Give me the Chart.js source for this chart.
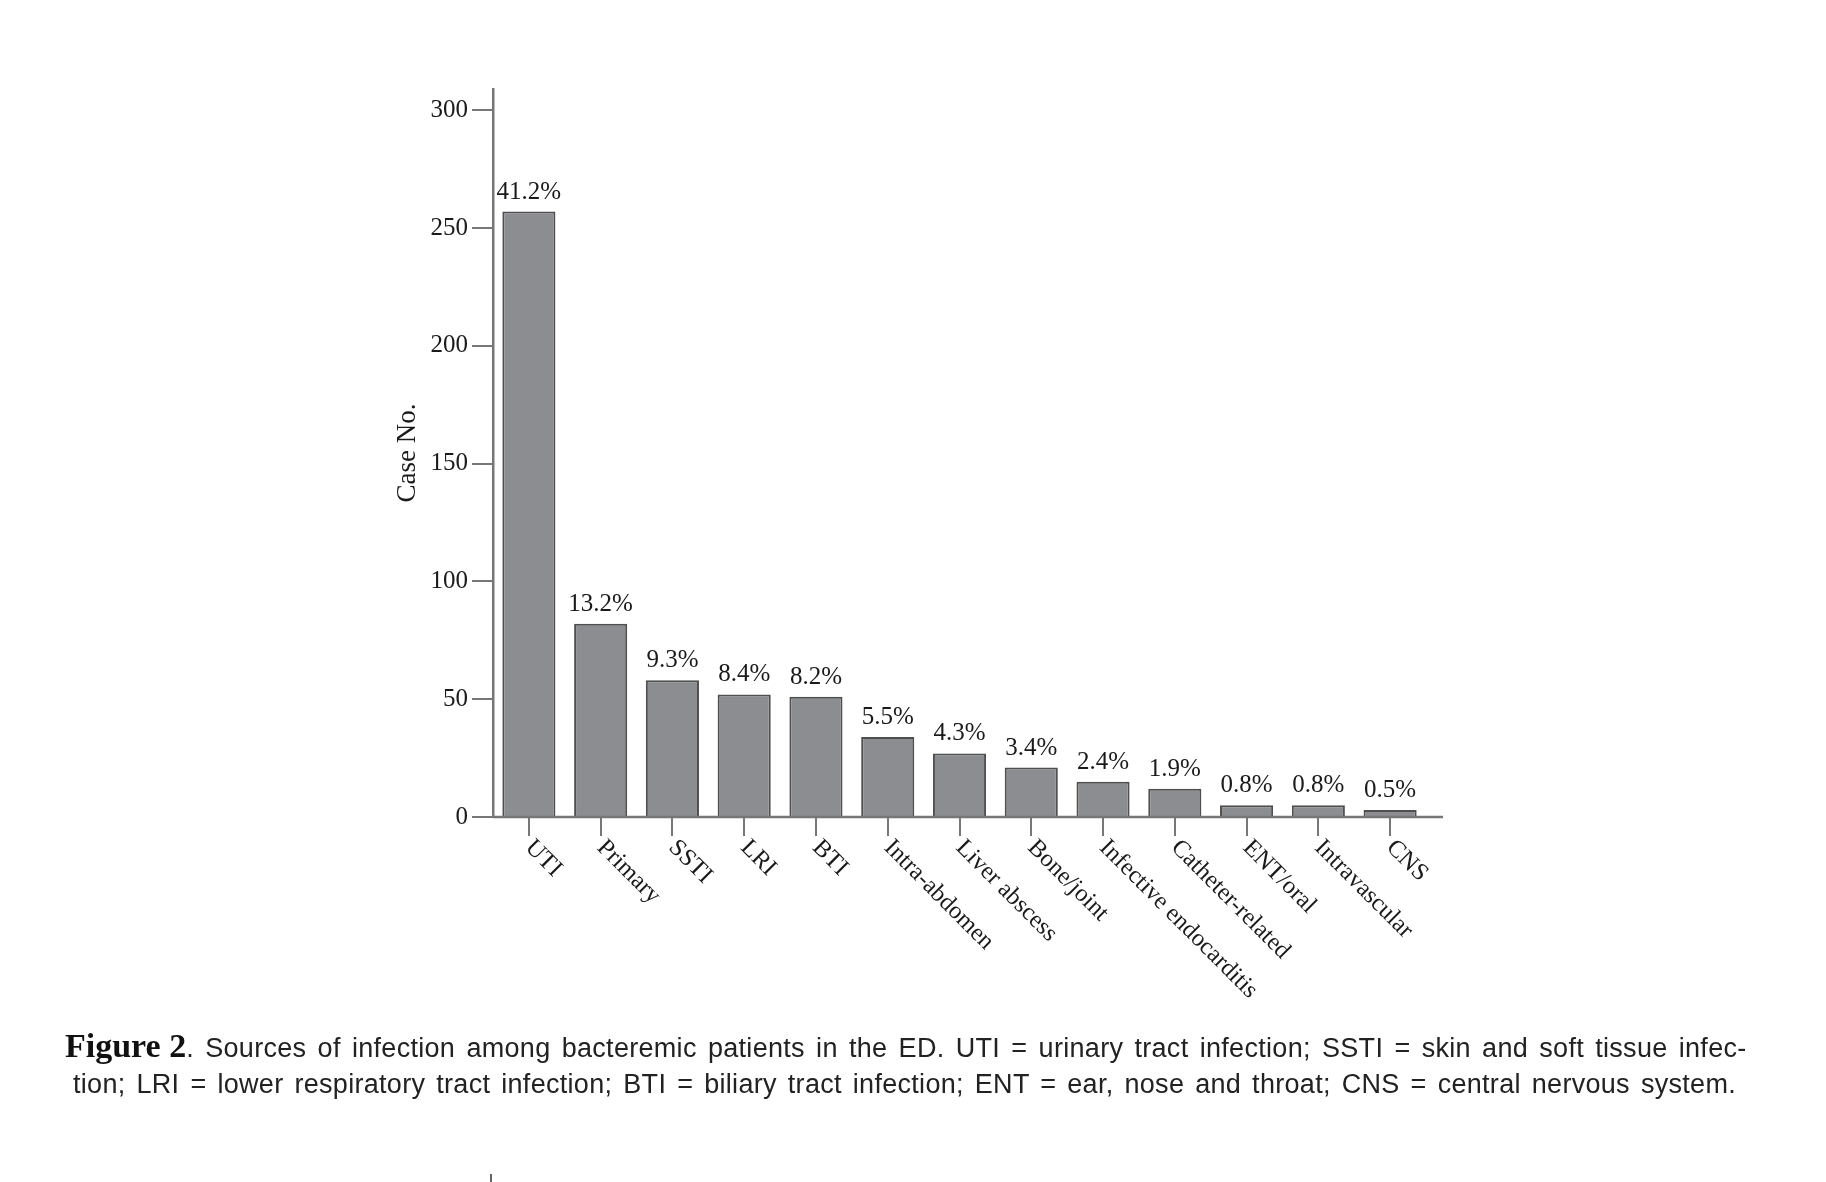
<!DOCTYPE html>
<html>
<head>
<meta charset="utf-8">
<script src="https://cdn.jsdelivr.net/npm/chart.js"></script>
<style>
  html, body { margin: 0; padding: 0; background: #fff; }
  body { width: 1826px; height: 1182px; position: relative; overflow: hidden; }
  #caixa { position: absolute; left: 0; top: 0; width: 1826px; height: 1030px; }
  .legenda { position: absolute; font: 27px "Liberation Sans", Arial, sans-serif; color: #222;
             line-height: 40px; white-space: nowrap; letter-spacing: 0.3px; }
  .legenda b { font: bold 34px "Liberation Serif", "Times New Roman", serif; color: #111; letter-spacing: 0; word-spacing: 0; }
  #linha1 { left: 65px; top: 1027px; }
  #linha2 { left: 73px; top: 1064px; }
  #marca { position: absolute; left: 490px; top: 1174px; width: 2px; height: 8px; background: #666; }
</style>
</head>
<body>
<div id="caixa"><canvas id="grafico"></canvas></div>
<div class="legenda" id="linha1" data-largura="1685"><b>Figure 2</b>. Sources of infection among bacteremic patients in the ED. UTI = urinary tract infection; SSTI = skin and soft tissue infec-</div>
<div class="legenda" id="linha2" data-largura="1663">tion; LRI = lower respiratory tract infection; BTI = biliary tract infection; ENT = ear, nose and throat; CNS = central nervous system.</div>
<div id="marca"></div>
<script>
// dados
const categorias = ["UTI", "Primary", "SSTI", "LRI", "BTI", "Intra-abdomen", "Liver abscess",
  "Bone/joint", "Infective endocarditis", "Catheter-related", "ENT/oral", "Intravascular", "CNS"];
const casos = [257, 82, 58, 52, 51, 34, 27, 21, 15, 12, 5, 5, 3];
const percentuais = ["41.2%", "13.2%", "9.3%", "8.4%", "8.2%", "5.5%", "4.3%",
  "3.4%", "2.4%", "1.9%", "0.8%", "0.8%", "0.5%"];
const ticksY = [0, 50, 100, 150, 200, 250, 300];

const corEixo = "#777";
const corTexto = "#1a1a1a";
const fonteSerif = '"Liberation Serif", "Times New Roman", serif';

// ajusta o espaço entre palavras para cada linha da legenda ocupar a largura certa
document.querySelectorAll(".legenda").forEach(linha => {
  const alvo = parseFloat(linha.dataset.largura);
  const espacos = (linha.textContent.match(/ /g) || []).length;
  const natural = linha.getBoundingClientRect().width;
  linha.style.wordSpacing = ((alvo - natural) / espacos) + "px";
});

// rótulos das barras, eixo x estendido e categorias inclinadas
const etiquetas = {
  id: "etiquetas",
  afterDraw(chart) {
    const { ctx, chartArea } = chart;
    const xs = chart.scales.x;
    const meta = chart.getDatasetMeta(0);
    ctx.save();

    ctx.strokeStyle = corEixo;
    ctx.lineWidth = 2.5;
    ctx.beginPath();
    ctx.moveTo(chartArea.left, chartArea.bottom);
    ctx.lineTo(chartArea.right + 17, chartArea.bottom);
    ctx.stroke();

    ctx.fillStyle = corTexto;
    ctx.font = "25px " + fonteSerif;
    ctx.textAlign = "center";
    ctx.textBaseline = "alphabetic";
    meta.data.forEach((barra, i) => {
      ctx.fillText(percentuais[i], barra.x, barra.y - 13);
    });

    ctx.font = "24.5px " + fonteSerif;
    ctx.textAlign = "left";
    ctx.textBaseline = "middle";
    categorias.forEach((nome, i) => {
      const x = xs.getPixelForTick(i);
      const y = chartArea.bottom + 19 + 8;
      ctx.save();
      ctx.translate(x, y);
      ctx.rotate(Math.PI / 4);
      ctx.fillText(nome, 0, 0);
      ctx.restore();
    });
    ctx.restore();
  }
};

const ctx = document.getElementById("grafico").getContext("2d");
new Chart(ctx, {
  type: "bar",
  data: {
    labels: categorias,
    datasets: [{
      data: casos,
      backgroundColor: "#8c8d91",
      borderColor: "#4f4f4f",
      borderWidth: 2,
      barPercentage: 0.74,
      categoryPercentage: 1
    }]
  },
  options: {
    responsive: true,
    maintainAspectRatio: false,
    animation: false,
    devicePixelRatio: 1,
    layout: { padding: { left: 392, top: 89, right: 400, bottom: 0 } },
    plugins: { legend: { display: false }, tooltip: { enabled: false } },
    scales: {
      x: {
        offset: true,
        grid: { display: true, drawOnChartArea: false, offset: false, tickLength: 19, color: corEixo, lineWidth: 2 },
        border: { display: false },
        ticks: { display: false, autoSkip: false },
        afterFit(scale) { scale.height = 213; }
      },
      y: {
        min: 0,
        max: 309,
        grid: { drawOnChartArea: false, tickLength: 21, color: corEixo, lineWidth: 2 },
        border: { display: true, color: corEixo, width: 2.5 },
        ticks: { stepSize: 50, padding: 4, color: corTexto, font: { family: fonteSerif, size: 25 } },
        afterBuildTicks(scale) {
          scale.ticks = ticksY.map(v => ({ value: v }));
        },
        title: {
          display: true,
          text: "Case No.",
          color: corTexto,
          padding: 0,
          font: { family: fonteSerif, size: 27 }
        },
        afterFit(scale) { scale.width = 101; }
      }
    }
  },
  plugins: [etiquetas]
});
</script>
</body>
</html>
